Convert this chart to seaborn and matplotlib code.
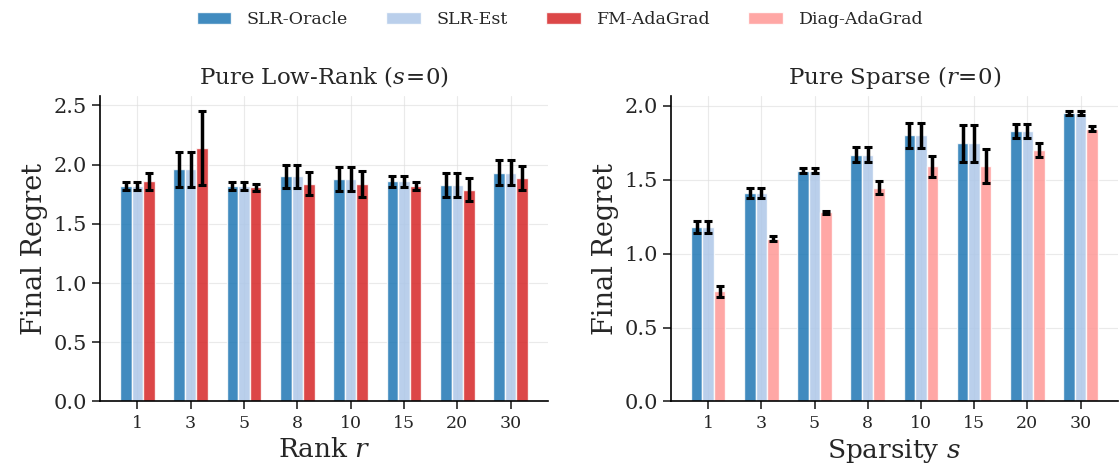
import matplotlib
matplotlib.use("Agg")
import matplotlib.pyplot as plt
from matplotlib.patches import Patch
import seaborn as sns
import pandas as pd

# ---- data ----
ranks = ["1", "3", "5", "8", "10", "15", "20", "30"]
sparsities = ["1", "3", "5", "8", "10", "15", "20", "30"]

lr_oracle = [1.82, 1.96, 1.82, 1.90, 1.88, 1.86, 1.83, 1.93]
lr_oracle_err = [0.03, 0.145, 0.03, 0.10, 0.10, 0.045, 0.10, 0.105]
lr_est = [1.82, 1.96, 1.82, 1.90, 1.88, 1.86, 1.83, 1.93]
lr_est_err = [0.03, 0.145, 0.03, 0.10, 0.10, 0.047, 0.10, 0.105]
lr_fm = [1.86, 2.14, 1.81, 1.84, 1.84, 1.82, 1.79, 1.89]
lr_fm_err = [0.07, 0.315, 0.03, 0.10, 0.11, 0.03, 0.10, 0.10]

sp_oracle = [1.18, 1.41, 1.56, 1.67, 1.80, 1.745, 1.83, 1.95]
sp_oracle_err = [0.04, 0.034, 0.016, 0.049, 0.084, 0.125, 0.047, 0.016]
sp_est = [1.18, 1.41, 1.56, 1.67, 1.80, 1.745, 1.83, 1.95]
sp_est_err = [0.04, 0.034, 0.016, 0.049, 0.084, 0.125, 0.047, 0.016]
sp_diag = [0.745, 1.10, 1.28, 1.445, 1.59, 1.59, 1.70, 1.845]
sp_diag_err = [0.036, 0.018, 0.01, 0.044, 0.073, 0.115, 0.045, 0.015]

methods = ["SLR-Oracle", "SLR-Est", "FM-AdaGrad", "Diag-AdaGrad"]
colors = {"SLR-Oracle": "#1f77b4", "SLR-Est": "#aec7e8",
          "FM-AdaGrad": "#d62728", "Diag-AdaGrad": "#ff9896"}

sns.set_theme(style="ticks")
plt.rcParams["font.family"] = ["DejaVu Serif"]
plt.rcParams["mathtext.fontset"] = "dejavuserif"

fig = plt.figure(figsize=(11.2, 4.74), dpi=100)
ax1 = fig.add_axes([0.0893, 0.153, 0.400, 0.644])
ax2 = fig.add_axes([0.599, 0.153, 0.399, 0.644])


def panel(ax, cats, series, errs, names, xlabel, title):
    rows = []
    for name, vals in zip(names, series):
        for c, v in zip(cats, vals):
            rows.append({"cat": c, "method": name, "value": v})
    df = pd.DataFrame(rows)
    sns.barplot(data=df, x="cat", y="value", hue="method", order=cats,
                hue_order=names, palette=[colors[n] for n in names],
                saturation=1, width=0.65, errorbar=None, alpha=0.85,
                edgecolor="white", linewidth=1.0, legend=False, ax=ax)
    for cont, err in zip(ax.containers, errs):
        xs = [b.get_x() + b.get_width() / 2 for b in cont]
        ys = [b.get_height() for b in cont]
        ax.errorbar(xs, ys, yerr=err, fmt="none", ecolor="black",
                    elinewidth=2.5, capsize=3.2, capthick=2.2, zorder=5)
    ax.set_xlim(-0.7, 7.7)
    ax.set_xlabel(xlabel, fontsize=19)
    ax.set_ylabel("Final Regret", fontsize=19.5)
    ax.set_title(title, fontsize=16.5, pad=9)
    ax.tick_params(axis="y", labelsize=15, length=6, width=1.2)
    ax.tick_params(axis="x", labelsize=12.5, length=6, width=1.2)
    ax.grid(True, color="#dddddd", linewidth=0.8, alpha=0.6)
    ax.set_axisbelow(True)
    for s in ["left", "bottom"]:
        ax.spines[s].set_linewidth(1.2)
        ax.spines[s].set_color("black")
    sns.despine(ax=ax)


panel(ax1, ranks, [lr_oracle, lr_est, lr_fm],
      [lr_oracle_err, lr_est_err, lr_fm_err],
      ["SLR-Oracle", "SLR-Est", "FM-AdaGrad"],
      "Rank $r$", r"Pure Low-Rank ($s\!=\!0$)")
panel(ax2, sparsities, [sp_oracle, sp_est, sp_diag],
      [sp_oracle_err, sp_est_err, sp_diag_err],
      ["SLR-Oracle", "SLR-Est", "Diag-AdaGrad"],
      "Sparsity $s$", r"Pure Sparse ($r\!=\!0$)")

handles = [Patch(facecolor=colors[m], alpha=0.85, label=m) for m in methods]
fig.legend(handles=handles, loc="upper center", ncol=4, frameon=False,
           fontsize=12.5, bbox_to_anchor=(0.5, 1.01), columnspacing=2.2,
           handlelength=2.0, handletextpad=0.9)

fig.savefig("out.png", dpi=100)
